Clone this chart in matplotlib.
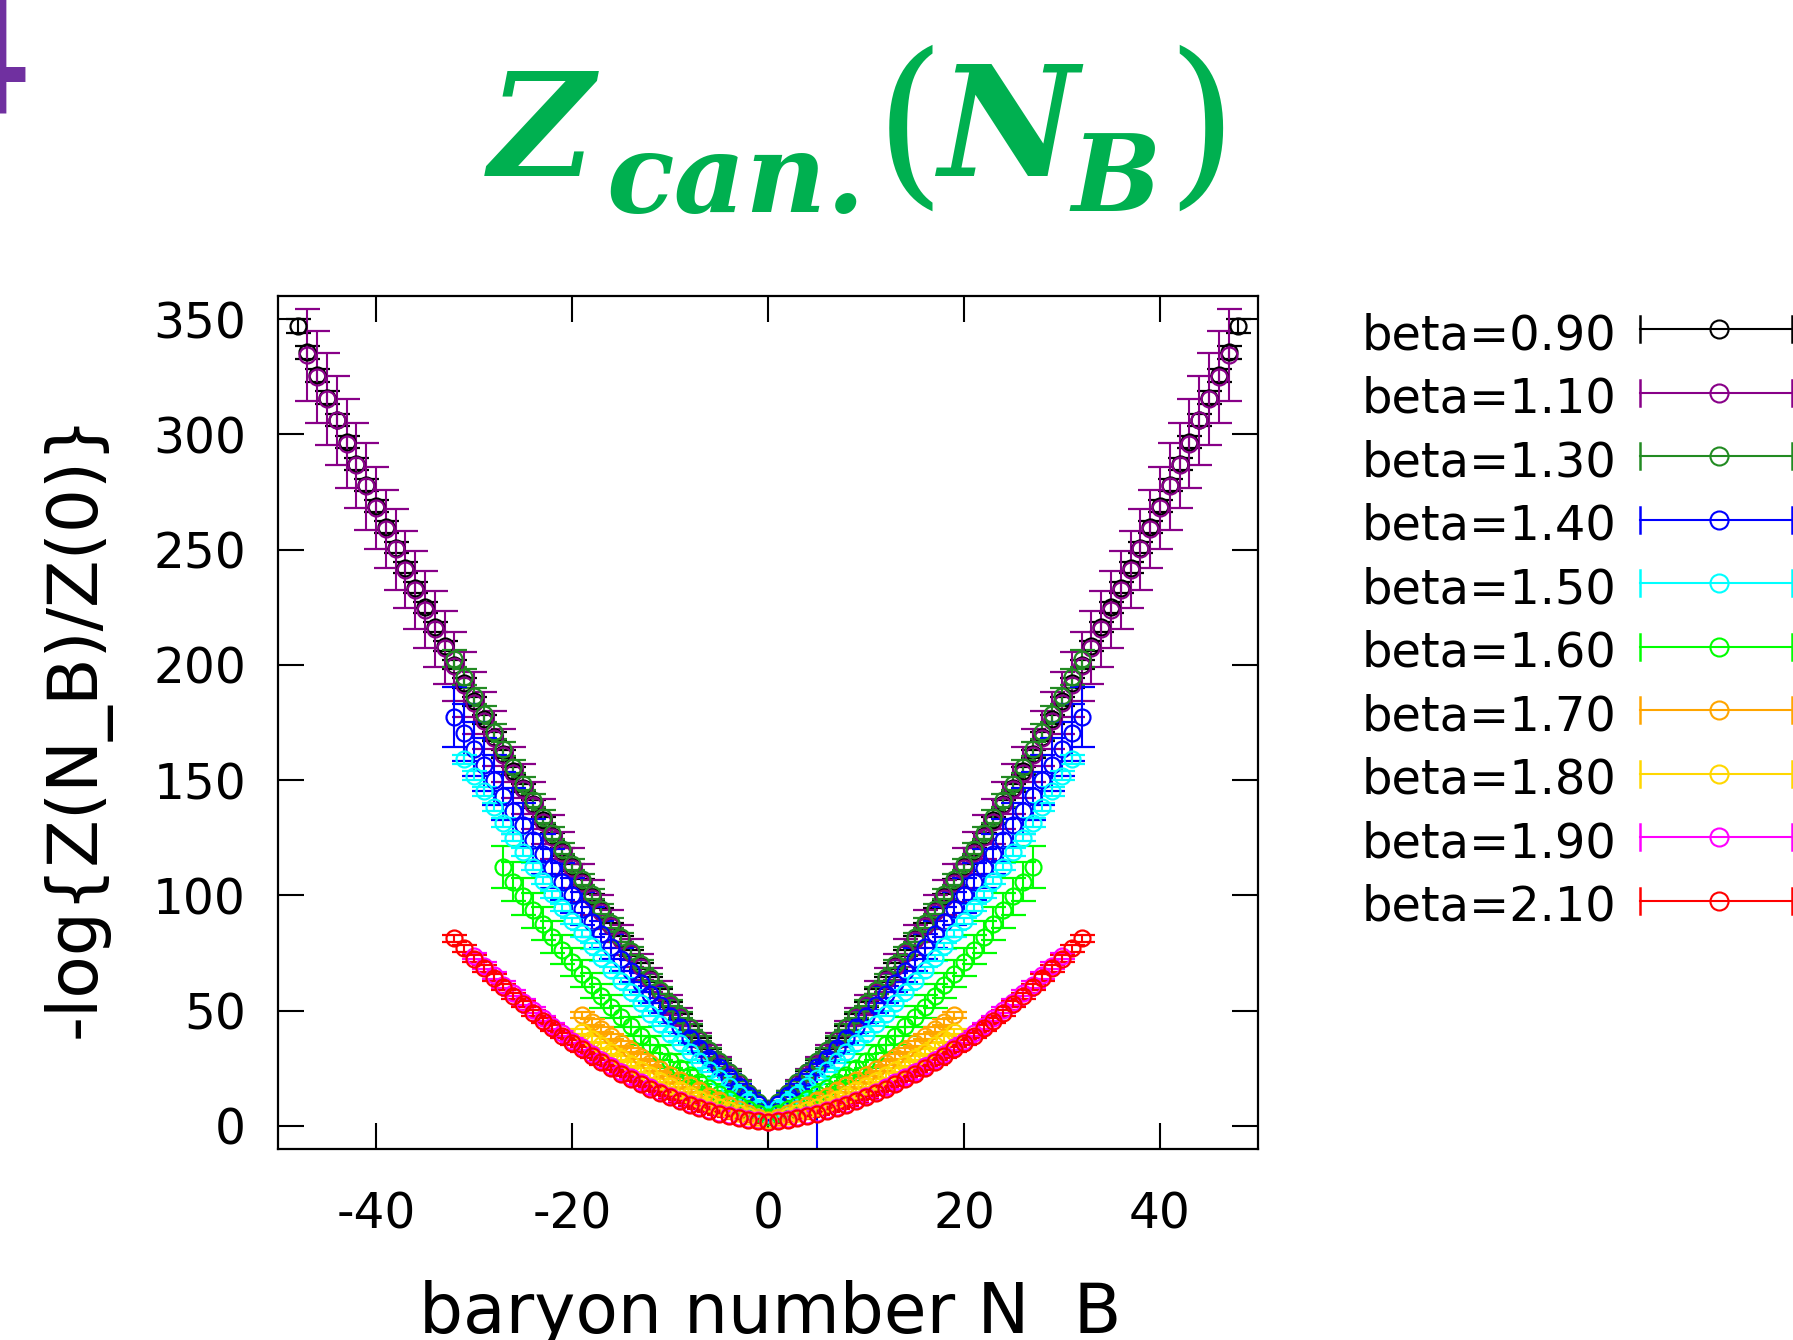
import numpy as np
import matplotlib
matplotlib.use("Agg")
import matplotlib.pyplot as plt
from matplotlib.lines import Line2D

plt.rcParams['font.family'] = ['DejaVu Sans']
plt.rcParams['axes.unicode_minus'] = False

# --- data: -log{Z(N_B)/Z(0)} per beta ---
labels = ["beta=0.90", "beta=1.10", "beta=1.30", "beta=1.40", "beta=1.50",
          "beta=1.60", "beta=1.70", "beta=1.80", "beta=1.90", "beta=2.10"]
colors = ["#000000", "#880088", "#228B22", "#0000FF", "#00FFFF",
          "#00FF00", "#FFA500", "#FFD700", "#FF00FF", "#FF0000"]

nb_090 = np.arange(-48, 49)
val_090 = [
    347.0, 335.5, 325.6, 315.8, 306.2, 296.6, 287.2, 278.0, 268.8, 259.8,
    250.9, 242.1, 233.5, 224.9, 216.5, 208.3, 200.1, 192.1, 184.2, 176.4,
    168.8, 161.3, 153.9, 146.6, 139.5, 132.5, 125.6, 118.8, 112.2, 105.7,
    99.3, 93.1, 86.9, 80.9, 75.1, 69.3, 63.7, 58.2, 52.8, 47.6,
    42.4, 37.4, 32.6, 27.8, 23.2, 18.7, 14.4, 10.1,
    6.0,
    10.1, 14.4, 18.7, 23.2, 27.8, 32.6, 37.4, 42.4,
    47.6, 52.8, 58.2, 63.7, 69.3, 75.1, 80.9, 86.9, 93.1, 99.3,
    105.7, 112.2, 118.8, 125.6, 132.5, 139.5, 146.6, 153.9, 161.3, 168.8,
    176.4, 184.2, 192.1, 200.1, 208.3, 216.5, 224.9, 233.5, 242.1, 250.9,
    259.8, 268.8, 278.0, 287.2, 296.6, 306.2, 315.8, 325.6, 335.5, 347.0]
err_090 = [
    2.9, 2.9, 2.8, 2.8, 2.7, 2.7, 2.6, 2.6, 2.5, 2.5,
    2.4, 2.4, 2.3, 2.3, 2.2, 2.2, 2.1, 2.1, 2.0, 2.0,
    1.9, 1.9, 1.8, 1.8, 1.7, 1.7, 1.6, 1.6, 1.5, 1.5,
    1.4, 1.4, 1.3, 1.3, 1.2, 1.2, 1.1, 1.1, 1.0, 1.0,
    0.9, 0.9, 0.8, 0.8, 0.7, 0.7, 0.6, 0.6,
    0.5,
    0.6, 0.6, 0.7, 0.7, 0.8, 0.8, 0.9, 0.9,
    1.0, 1.0, 1.1, 1.1, 1.2, 1.2, 1.3, 1.3, 1.4, 1.4,
    1.5, 1.5, 1.6, 1.6, 1.7, 1.7, 1.8, 1.8, 1.9, 1.9,
    2.0, 2.0, 2.1, 2.1, 2.2, 2.2, 2.3, 2.3, 2.4, 2.4,
    2.5, 2.5, 2.6, 2.6, 2.7, 2.7, 2.8, 2.8, 2.9, 2.9]

nb_110 = np.arange(-47, 48)
val_110 = [
    334.5, 325.0, 315.3, 306.0, 296.0, 286.5, 277.4, 268.0, 259.0, 250.2,
    241.3, 232.6, 224.0, 215.6, 207.5, 199.4, 191.4, 183.5, 175.8, 168.2,
    160.7, 153.3, 146.1, 139.0, 132.0, 125.2, 118.5, 111.9, 105.4, 99.0,
    92.8, 86.7, 80.7, 74.9, 69.1, 63.5, 58.0, 52.6, 47.4, 42.3,
    37.3, 32.5, 27.7, 23.1, 18.7, 14.3, 10.1,
    6.0,
    10.1, 14.3, 18.7, 23.1, 27.7, 32.5, 37.3,
    42.3, 47.4, 52.6, 58.0, 63.5, 69.1, 74.9, 80.7, 86.7, 92.8,
    99.0, 105.4, 111.9, 118.5, 125.2, 132.0, 139.0, 146.1, 153.3, 160.7,
    168.2, 175.8, 183.5, 191.4, 199.4, 207.5, 215.6, 224.0, 232.6, 241.3,
    250.2, 259.0, 268.0, 277.4, 286.5, 296.0, 306.0, 315.3, 325.0, 334.5]
err_110 = [
    19.9, 20.0, 20.1, 19.2, 19.3, 18.6, 18.9, 17.7, 17.0, 17.6,
    16.6, 17.0, 16.8, 16.5, 15.7, 15.0, 14.2, 13.5, 12.5, 12.0,
    11.6, 11.2, 10.8, 10.3, 9.9, 9.5, 9.0, 8.6, 8.2, 7.7,
    7.3, 6.9, 6.5, 6.0, 5.6, 5.2, 4.7, 4.3, 3.9, 3.4,
    3.0, 2.6, 2.2, 1.7, 1.3, 0.9, 0.5,
    0.3,
    0.5, 0.9, 1.3, 1.7, 2.2, 2.6, 3.0,
    3.4, 3.9, 4.3, 4.7, 5.2, 5.6, 6.0, 6.5, 6.9, 7.3,
    7.7, 8.2, 8.6, 9.0, 9.5, 9.9, 10.3, 10.8, 11.2, 11.6,
    12.0, 12.5, 13.5, 14.2, 15.0, 15.7, 16.5, 16.8, 17.0, 16.6,
    17.6, 17.0, 17.7, 18.9, 18.6, 19.3, 19.2, 20.1, 20.0, 19.9]

nb_130 = np.arange(-32, 33)
val_130 = [
    202.7, 194.6, 186.6, 178.7, 171.0, 163.4, 155.9, 148.5, 141.3, 134.2,
    127.2, 120.3, 113.6, 107.0, 100.5, 94.2, 88.0, 81.9, 76.0, 70.1,
    64.4, 58.9, 53.4, 48.1, 42.9, 37.8, 32.9, 28.1, 23.4, 18.9,
    14.5, 10.2,
    6.0,
    10.2, 14.5,
    18.9, 23.4, 28.1, 32.9, 37.8, 42.9, 48.1, 53.4, 58.9, 64.4,
    70.1, 76.0, 81.9, 88.0, 94.2, 100.5, 107.0, 113.6, 120.3, 127.2,
    134.2, 141.3, 148.5, 155.9, 163.4, 171.0, 178.7, 186.6, 194.6, 202.7]
err_130 = [
    3.6, 3.5, 3.4, 3.3, 3.2, 3.1, 3.0, 2.9, 2.8, 2.7,
    2.6, 2.5, 2.4, 2.3, 2.2, 2.1, 2.0, 1.9, 1.8, 1.7,
    1.6, 1.5, 1.4, 1.3, 1.2, 1.1, 1.0, 0.9, 0.8, 0.7,
    0.6, 0.5,
    0.4,
    0.5, 0.6,
    0.7, 0.8, 0.9, 1.0, 1.1, 1.2, 1.3, 1.4, 1.5, 1.6,
    1.7, 1.8, 1.9, 2.0, 2.1, 2.2, 2.3, 2.4, 2.5, 2.6,
    2.7, 2.8, 2.9, 3.0, 3.1, 3.2, 3.3, 3.4, 3.5, 3.6]

nb_140 = np.arange(-32, 33)
val_140 = [
    177.5, 170.5, 163.5, 156.7, 149.9, 143.3, 136.8, 130.4, 124.1, 117.9,
    111.8, 105.9, 100.0, 94.3, 88.6, 83.1, 77.7, 72.4, 67.2, 62.1,
    57.1, 52.3, 47.5, 42.9, 38.3, 33.9, 29.6, 25.4, 21.3, 17.3,
    13.4, 9.7,
    6.0,
    9.7, 13.4,
    17.3, 21.3, 25.4, 29.6, 33.9, 38.3, 42.9, 47.5, 52.3, 57.1,
    62.1, 67.2, 72.4, 77.7, 83.1, 88.6, 94.3, 100.0, 105.9, 111.8,
    117.9, 124.1, 130.4, 136.8, 143.3, 149.9, 156.7, 163.5, 170.5, 177.5]
err_140_hi = [
    13.0, 12.4, 11.9, 11.4, 10.9, 10.4, 10.0, 9.6, 9.2, 8.8,
    8.4, 8.0, 7.6, 7.0, 6.5, 6.0, 5.5, 5.0, 4.6, 4.2,
    3.8, 3.4, 3.0, 2.7, 2.4, 2.1, 1.8, 1.5, 1.3, 1.1,
    0.9, 0.7,
    0.5,
    0.7, 0.9,
    1.1, 1.3, 1.5, 1.8, 2.1, 2.4, 2.7, 3.0, 3.4, 3.8,
    4.2, 4.6, 5.0, 5.5, 6.0, 6.5, 7.0, 7.6, 8.0, 8.4,
    8.8, 9.2, 9.6, 10.0, 10.4, 10.9, 11.4, 11.9, 12.4, 13.0]
err_140_lo = [
    13.0, 12.4, 11.9, 11.4, 10.9, 10.4, 10.0, 9.6, 9.2, 8.8,
    8.4, 8.0, 7.6, 7.0, 6.5, 6.0, 5.5, 5.0, 4.6, 4.2,
    3.8, 3.4, 3.0, 2.7, 2.4, 2.1, 1.8, 1.5, 1.3, 1.1,
    0.9, 0.7,
    0.5,
    0.7, 0.9,
    1.1, 1.3, 40.0, 1.8, 2.1, 2.4, 2.7, 3.0, 3.4, 3.8,
    4.2, 4.6, 5.0, 5.5, 6.0, 6.5, 7.0, 7.6, 8.0, 8.4,
    8.8, 9.2, 9.6, 10.0, 10.4, 10.9, 11.4, 11.9, 12.4, 13.0]

nb_150 = np.arange(-31, 32)
val_150 = [
    159.1, 152.0, 145.1, 138.3, 131.6, 125.1, 118.8, 112.5, 106.4, 100.5,
    94.7, 89.0, 83.5, 78.1, 72.8, 67.7, 62.8, 57.9, 53.2, 48.7,
    44.3, 40.0, 35.9, 31.9, 28.0, 24.3, 20.8, 17.3, 14.0, 10.9,
    7.9,
    5.0,
    7.9,
    10.9, 14.0, 17.3, 20.8, 24.3, 28.0, 31.9, 35.9, 40.0, 44.3,
    48.7, 53.2, 57.9, 62.8, 67.7, 72.8, 78.1, 83.5, 89.0, 94.7,
    100.5, 106.4, 112.5, 118.8, 125.1, 131.6, 138.3, 145.1, 152.0, 159.1]
err_150 = [
    2.0, 1.9, 1.9, 1.8, 1.8, 1.7, 1.7, 1.6, 1.6, 1.5,
    1.5, 1.4, 1.4, 1.3, 1.3, 1.2, 1.2, 1.1, 1.1, 1.0,
    1.0, 0.9, 0.9, 0.8, 0.8, 0.7, 0.7, 0.6, 0.6, 0.5,
    0.5,
    0.4,
    0.5,
    0.5, 0.6, 0.6, 0.7, 0.7, 0.8, 0.8, 0.9, 0.9, 1.0,
    1.0, 1.1, 1.1, 1.2, 1.2, 1.3, 1.3, 1.4, 1.4, 1.5,
    1.5, 1.6, 1.6, 1.7, 1.7, 1.8, 1.8, 1.9, 1.9, 2.0]

nb_160 = np.arange(-27, 28)
val_160 = [
    112.3, 105.9, 99.6, 93.6, 87.7, 82.0, 76.5, 71.2, 66.1, 61.1,
    56.4, 51.8, 47.4, 43.2, 39.2, 35.4, 31.8, 28.3, 25.0, 22.0,
    19.1, 16.3, 13.8, 11.5, 9.3, 7.4, 5.6,
    4.0,
    5.6, 7.4, 9.3, 11.5, 13.8, 16.3, 19.1,
    22.0, 25.0, 28.3, 31.8, 35.4, 39.2, 43.2, 47.4, 51.8, 56.4,
    61.1, 66.1, 71.2, 76.5, 82.0, 87.7, 93.6, 99.6, 105.9, 112.3]
err_160 = [
    9.0, 8.5, 8.0, 7.6, 7.2, 6.8, 6.4, 6.0, 5.7, 5.4,
    5.1, 4.8, 4.5, 4.2, 3.9, 3.6, 3.3, 3.0, 2.7, 2.4,
    2.1, 1.8, 1.5, 1.3, 1.1, 0.9, 0.7,
    0.5,
    0.7, 0.9, 1.1, 1.3, 1.5, 1.8, 2.1,
    2.4, 2.7, 3.0, 3.3, 3.6, 3.9, 4.2, 4.5, 4.8, 5.1,
    5.4, 5.7, 6.0, 6.4, 6.8, 7.2, 7.6, 8.0, 8.5, 9.0]

nb_170 = np.arange(-19, 20)
val_170 = [
    48.3, 45.0, 41.9, 38.8, 35.8, 32.9, 30.1, 27.4, 24.8, 22.3,
    19.9, 17.6, 15.4, 13.2, 11.2, 9.3, 7.4, 5.7, 4.0,
    2.5,
    4.0, 5.7, 7.4, 9.3, 11.2, 13.2, 15.4, 17.6, 19.9,
    22.3, 24.8, 27.4, 30.1, 32.9, 35.8, 38.8, 41.9, 45.0, 48.3]
err_170 = [
    1.3, 1.2, 1.2, 1.1, 1.1, 1.0, 1.0, 0.9, 0.9, 0.8,
    0.8, 0.7, 0.7, 0.6, 0.6, 0.5, 0.5, 0.4, 0.4,
    0.3,
    0.4, 0.4, 0.5, 0.5, 0.6, 0.6, 0.7, 0.7, 0.8,
    0.8, 0.9, 0.9, 1.0, 1.0, 1.1, 1.1, 1.2, 1.2, 1.3]

nb_180 = np.arange(-19, 20)
val_180 = [
    40.9, 37.8, 34.9, 32.1, 29.4, 26.8, 24.3, 21.9, 19.7, 17.5,
    15.5, 13.5, 11.7, 10.0, 8.4, 6.9, 5.5, 4.2, 3.1,
    2.0,
    3.1, 4.2, 5.5, 6.9, 8.4, 10.0, 11.7, 13.5, 15.5,
    17.5, 19.7, 21.9, 24.3, 26.8, 29.4, 32.1, 34.9, 37.8, 40.9]
err_180 = [
    1.2, 1.2, 1.1, 1.1, 1.0, 1.0, 0.9, 0.9, 0.8, 0.8,
    0.7, 0.7, 0.6, 0.6, 0.5, 0.5, 0.4, 0.4, 0.3,
    0.3,
    0.3, 0.4, 0.4, 0.5, 0.5, 0.6, 0.6, 0.7, 0.7,
    0.8, 0.8, 0.9, 0.9, 1.0, 1.0, 1.1, 1.1, 1.2, 1.2]

nb_190 = np.arange(-30, 31)
val_190 = [
    73.7, 69.5, 65.3, 61.3, 57.5, 53.7, 50.1, 46.7, 43.3, 40.1,
    37.0, 34.1, 31.2, 28.5, 25.9, 23.5, 21.1, 18.9, 16.8, 14.8,
    13.0, 11.3, 9.7, 8.3, 7.0, 5.8, 4.8, 3.9, 3.1, 2.4,
    1.8,
    2.4, 3.1, 3.9, 4.8, 5.8, 7.0, 8.3, 9.7, 11.3, 13.0,
    14.8, 16.8, 18.9, 21.1, 23.5, 25.9, 28.5, 31.2, 34.1, 37.0,
    40.1, 43.3, 46.7, 50.1, 53.7, 57.5, 61.3, 65.3, 69.5, 73.7]
err_190 = [
    1.5, 1.5, 1.4, 1.4, 1.3, 1.3, 1.3, 1.2, 1.2, 1.1,
    1.1, 1.1, 1.0, 1.0, 0.9, 0.9, 0.9, 0.8, 0.8, 0.7,
    0.7, 0.7, 0.6, 0.6, 0.5, 0.5, 0.5, 0.4, 0.4, 0.3,
    0.3,
    0.3, 0.4, 0.4, 0.5, 0.5, 0.5, 0.6, 0.6, 0.7, 0.7,
    0.7, 0.8, 0.8, 0.9, 0.9, 0.9, 1.0, 1.0, 1.1, 1.1,
    1.1, 1.2, 1.2, 1.3, 1.3, 1.3, 1.4, 1.4, 1.5, 1.5]

nb_210 = np.arange(-32, 33)
val_210 = [
    81.4, 77.0, 72.6, 68.4, 64.3, 60.3, 56.5, 52.8, 49.2, 45.7,
    42.4, 39.2, 36.1, 33.2, 30.3, 27.6, 25.1, 22.7, 20.3, 18.2,
    16.1, 14.2, 12.4, 10.7, 9.2, 7.8, 6.5, 5.3, 4.3, 3.4,
    2.7, 2.0,
    1.5,
    2.0, 2.7,
    3.4, 4.3, 5.3, 6.5, 7.8, 9.2, 10.7, 12.4, 14.2, 16.1,
    18.2, 20.3, 22.7, 25.1, 27.6, 30.3, 33.2, 36.1, 39.2, 42.4,
    45.7, 49.2, 52.8, 56.5, 60.3, 64.3, 68.4, 72.6, 77.0, 81.4]
err_210 = [
    1.6, 1.6, 1.5, 1.5, 1.4, 1.4, 1.3, 1.3, 1.3, 1.2,
    1.2, 1.1, 1.1, 1.1, 1.0, 1.0, 0.9, 0.9, 0.9, 0.8,
    0.8, 0.7, 0.7, 0.7, 0.6, 0.6, 0.5, 0.5, 0.5, 0.4,
    0.4, 0.3,
    0.3,
    0.3, 0.4,
    0.4, 0.5, 0.5, 0.5, 0.6, 0.6, 0.7, 0.7, 0.7, 0.8,
    0.8, 0.9, 0.9, 0.9, 1.0, 1.0, 1.1, 1.1, 1.1, 1.2,
    1.2, 1.3, 1.3, 1.3, 1.4, 1.4, 1.5, 1.5, 1.6, 1.6]

xticks = [-40, -20, 0, 20, 40]
yticks = [0, 50, 100, 150, 200, 250, 300, 350]

# --- figure ---
W, H = 1793, 1340
fig = plt.figure(figsize=(W / 100, H / 100), dpi=100)
ax = fig.add_axes([278 / W, 1 - 1149 / H, 980 / W, 853 / H])

series = [
    (nb_090, val_090, err_090),
    (nb_110, val_110, err_110),
    (nb_130, val_130, err_130),
    (nb_140, val_140, [err_140_lo, err_140_hi]),
    (nb_150, val_150, err_150),
    (nb_160, val_160, err_160),
    (nb_170, val_170, err_170),
    (nb_180, val_180, err_180),
    (nb_190, val_190, err_190),
    (nb_210, val_210, err_210),
]

for (nb, val, err), c, lab in zip(series, colors, labels):
    ax.errorbar(nb, val, yerr=err, fmt='o', ms=11.5, mfc='none', mec=c, mew=1.6,
                ecolor=c, elinewidth=1.5, capsize=9, capthick=1.5, label=lab)

ax.set_xlim(-50, 50)
ax.set_ylim(-10, 360)
ax.set_xticks(xticks)
ax.set_yticks(yticks)
ax.tick_params(direction='in', length=19, width=1.5, top=True, right=True,
               labelsize=35)
ax.tick_params(axis='y', pad=23)
ax.tick_params(axis='x', pad=30)
for s in ax.spines.values():
    s.set_linewidth(1.6)

ax.set_ylabel('-log{Z(N_B)/Z(0)}', fontsize=50)
ax.yaxis.set_label_coords(-0.171, 0.496)
ax.set_xlabel('baryon number N  B', fontsize=50)
ax.xaxis.set_label_coords(0.5026, -0.1536)

# legend drawn gnuplot-style: text, then line with end caps and a circle
for i, (lab, c) in enumerate(zip(labels, colors)):
    ypx = 329.3 + i * 63.5
    yf = 1 - ypx / H
    fig.text(1362 / W, 1 - (ypx + 20) / H, lab, fontsize=34.5,
             ha='left', va='baseline')
    fig.add_artist(Line2D([1640 / W, 1800 / W], [yf, yf], color=c, lw=1.5,
                          transform=fig.transFigure))
    for xc in (1640, 1792):
        fig.add_artist(Line2D([xc / W, xc / W], [yf - 13 / H, yf + 13 / H],
                              color=c, lw=1.8, transform=fig.transFigure))
    fig.add_artist(Line2D([1719 / W], [yf], marker='o', ms=13, mfc='none',
                          mec=c, mew=1.5, transform=fig.transFigure))

# slide title
green = '#00B050'
tkw = dict(family='DejaVu Serif', weight='bold', style='italic', color=green,
           ha='left', va='baseline')
fig.text(489 / W, 1 - 176 / H, 'Z', fontsize=104, **tkw)
fig.text(606 / W, 1 - 212 / H, 'can.', fontsize=80, **tkw)
fig.text(938 / W, 1 - 176 / H, 'N', fontsize=110, **tkw)
fig.text(1071 / W, 1 - 211 / H, 'B', fontsize=76, **tkw)
pkw = dict(family='DejaVu Serif', color=green, ha='left', va='baseline')
fig.text(875 / W, 1 - 183 / H, '(', fontsize=130, **pkw)
fig.text(1166 / W, 1 - 183 / H, ')', fontsize=130, **pkw)

# cut-off slide number in the corner
fig.text(36 / W, 1 - 115 / H, '4', fontsize=132, color='#7030A0',
         ha='right', va='baseline')

fig.savefig('out.png', dpi=100)
